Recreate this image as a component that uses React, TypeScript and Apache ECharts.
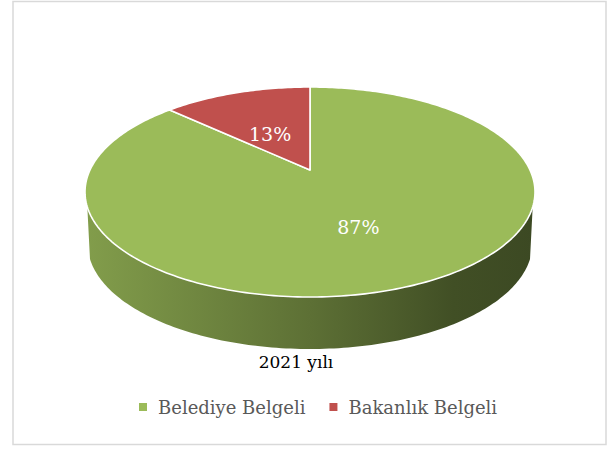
import React, { useEffect, useRef } from "react";
import * as echarts from "echarts";

const categories = ["Belediye Belgeli", "Bakanlık Belgeli"];
const values = [87, 13];
const colors = ["#9bbb59", "#c0504d"];
const chartTitle = "2021 yılı";

const FONT = "'DejaVu Serif', 'Liberation Serif', serif";
const CX = 310;
const CY = 170;
const RX = 220;
const RY = 100.4;
const PERSP = 0.2095;
const DEPTH = 52;
const FRONT_FROM = 110;
const FRONT_TO = 250;
const LABEL_DY = 6;

function proj(phiDeg: number, k = 1): [number, number] {
  const p = (phiDeg * Math.PI) / 180;
  const u = Math.sin(p) * k;
  const v = Math.cos(p) * k;
  const w = 1 + PERSP * v;
  return [CX + (RX * u) / w, CY - (RY * v) / w];
}

function projBottom(phiDeg: number): [number, number] {
  const [x, y] = proj(phiDeg);
  return [CX + (x - CX) * 0.988, y + DEPTH];
}

function arc(a: number, b: number, f: (d: number) => [number, number]) {
  const pts: [number, number][] = [];
  const n = Math.max(2, Math.ceil(Math.abs(b - a)));
  for (let i = 0; i <= n; i++) pts.push(f(a + ((b - a) * i) / n));
  return pts;
}

function shade(hex: string, f: number) {
  const n = parseInt(hex.slice(1), 16);
  const r = Math.round(((n >> 16) & 255) * f);
  const g = Math.round(((n >> 8) & 255) * f);
  const b = Math.round((n & 255) * f);
  return `rgb(${r},${g},${b})`;
}

export default function App() {
  const ref = useRef<HTMLDivElement>(null);

  useEffect(() => {
    if (!ref.current) return;
    const chart = echarts.init(ref.current, undefined, { renderer: "svg" });
    const total = values.reduce((s, v) => s + v, 0);
    const slices: { start: number; end: number }[] = [];
    let acc = 0;
    values.forEach((v) => {
      const start = (acc / total) * 360;
      acc += v;
      slices.push({ start, end: (acc / total) * 360 });
    });

    const sideSeries = {
      type: "custom",
      name: "__side",
      coordinateSystem: "none",
      silent: true,
      z: 1,
      data: slices.map((s, i) => [s.start, s.end, i]),
      renderItem: (_params: any, api: any) => {
        const s = api.value(0);
        const e = api.value(1);
        const idx = api.value(2);
        const a = Math.max(s, FRONT_FROM);
        const b = Math.min(e, FRONT_TO);
        if (b <= a) return { type: "group", children: [] };
        const top = arc(a, b, (d) => proj(d));
        const bot = arc(b, a, projBottom);
        const base = colors[idx];
        return {
          type: "polygon",
          shape: { points: [...top, ...bot] },
          style: {
            fill: new echarts.graphic.LinearGradient(
              86,
              0,
              534,
              0,
              [
                { offset: 0, color: shade(base, 0.84) },
                { offset: 0.5, color: shade(base, 0.6) },
                { offset: 0.82, color: shade(base, 0.42) },
                { offset: 1, color: shade(base, 0.39) },
              ],
              true
            ),
            stroke: null,
          },
        };
      },
    };

    const topSeries = categories.map((name, i) => ({
      type: "custom",
      name,
      coordinateSystem: "none",
      z: 2,
      itemStyle: { color: colors[i] },
      data: [[slices[i].start, slices[i].end, values[i]]],
      renderItem: (_params: any, api: any) => {
        const s = api.value(0);
        const e = api.value(1);
        const v = api.value(2);
        const pts = [proj(0, 0), ...arc(s, e, (d) => proj(d))];
        const [lx, ly] = proj((s + e) / 2, 0.5);
        return {
          type: "group",
          children: [
            {
              type: "polygon",
              shape: { points: pts },
              style: { fill: colors[i], stroke: "#ffffff", lineWidth: 1.6, lineJoin: "round" },
            },
            {
              type: "text",
              x: lx,
              y: ly + LABEL_DY,
              style: {
                text: `${v}%`,
                fill: "#ffffff",
                font: `19px ${FONT}`,
                align: "center",
                verticalAlign: "middle",
              },
            },
          ],
        };
      },
    }));

    chart.setOption({
      animation: false,
      legend: {
        data: categories,
        left: 139,
        top: 398,
        padding: 0,
        icon: "rect",
        itemWidth: 8,
        itemHeight: 8,
        itemGap: 24,
        selectedMode: false,
        textStyle: { color: "#595959", fontSize: 18, fontFamily: FONT, padding: [0, 0, 0, 6] },
      },
      graphic: [
        {
          type: "rect",
          shape: { x: 13, y: 1.5, width: 593, height: 443 },
          style: { fill: "none", stroke: "#d9d9d9", lineWidth: 1.5 },
          silent: true,
          z: 0,
        },
        {
          type: "text",
          x: 296,
          y: 362,
          style: {
            text: chartTitle,
            fill: "#000000",
            font: `17px ${FONT}`,
            align: "center",
            verticalAlign: "middle",
          },
          z: 5,
        },
      ],
      series: [sideSeries, ...topSeries],
    });
    return () => chart.dispose();
  }, []);

  return (
    <div
      ref={ref}
      style={{ position: "fixed", left: 0, top: 0, width: 609, height: 450, background: "#ffffff" }}
    />
  );
}
